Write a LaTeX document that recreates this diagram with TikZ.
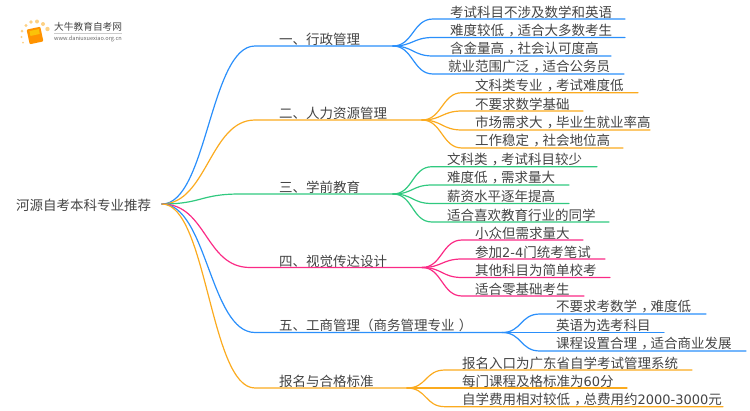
\documentclass[tikz,border=0pt]{standalone}
\usepackage{fontspec}
\setmainfont{Noto Sans CJK SC}
\newfontfamily\digitfont[Scale=0.96]{DejaVu Sans}
\newcommand{\midcomma}{\hspace{.3em}，\hspace{-.3em}}
\definecolor{lineblue}{HTML}{2A8FFB}
\definecolor{lineorange}{HTML}{FBAB1F}
\definecolor{linegreen}{HTML}{30C97F}
\definecolor{linepink}{HTML}{FB2A85}
\definecolor{textgray}{HTML}{444444}
\tikzset{
  label/.style={anchor=west, inner sep=0pt, text=textgray, font=\fontsize{13.5}{16}\selectfont},
  wire/.style={line width=1.2pt, line cap=round},
}
\begin{document}
\begin{tikzpicture}[x=1pt,y=-1pt]
\useasboundingbox (0,0) rectangle (750,410);

% logo
\fill[orange!85!yellow,rounded corners=1pt,rotate around={12:(35,35.5)}] (28,28) rectangle (42,43);
\fill[yellow!55!orange,rotate around={12:(35,35.5)}] (30.5,30) rectangle (40,35);
\foreach \x/\y/\r in {22/31/1.5,26/25.5/1.7,31/22/1.9,37/21.5/2,43/24/2,47.5/29/2.2,21.5/37/1.2,23/42.5/1}
  \fill[lineorange!55] (\x,\y) circle (\r);
\node[label,font=\fontsize{9.7}{12}\selectfont] (logoname) at (54,27) {大牛教育自考网};
\draw[black!20,line width=0.5pt] (54,33.5) -- (122,33.5);
\node[label,text=black!60,font=\fontsize{5.6}{7}\selectfont] (logourl) at (54,39) {www.daniuxuexiao.org.cn};

% root and branches
\node[label] (root) at (16,205.5) {河源自考本科专业推荐};
\coordinate (rootout) at (162,204);
\node[label] (one) at (279,39) {一、行政管理};
\node[label] (two) at (279,113) {二、人力资源管理};
\node[label] (three) at (279,187) {三、学前教育};
\node[label] (four) at (279,261) {四、视觉传达设计};
\node[label] (five) at (279,325) {五、工商管理\hspace{-.25em}\hspace{.25em}（商务管理专业\hspace{.3em}）};
\node[label] (six) at (279,381) {报名与合格标准};

\coordinate (onehub) at (393,46);
\coordinate (twohub) at (422,120);
\coordinate (threehub) at (393,194);
\coordinate (fourhub) at (422,267.5);
\coordinate (fivehub) at (502,332.5);
\coordinate (sixhub) at (407,388);

\draw[wire,lineblue] (rootout) .. controls +(45,0) and +(-45,0) .. (255,46) -- (onehub);
\draw[wire,lineorange] (rootout) .. controls +(45,0) and +(-45,0) .. (255,120) -- (twohub);
\draw[wire,linegreen] (rootout) .. controls +(40,0) and +(-40,0) .. (240,194) -- (threehub);
\draw[wire,linepink] (rootout) .. controls +(45,0) and +(-45,0) .. (250,267.5) -- (fourhub);
\draw[wire,lineblue] (rootout) .. controls +(45,0) and +(-45,0) .. (255,332.5) -- (fivehub);
\draw[wire,lineorange] (rootout) .. controls +(45,0) and +(-45,0) .. (255,388) -- (sixhub);

% leaves: name/text x/line y/line end/text
\foreach \leaf/\x/\y/\xend/\txt in {
  onea/450/19/625/考试科目不涉及数学和英语,
  oneb/450/37.5/625/难度较低\midcomma 适合大多数考生,
  onec/450/56/611/含金量高\midcomma 社会认可度高,
  oned/448/74/624/就业范围广泛\midcomma 适合公务员}
{
  \node[label] (\leaf) at (\x,\y-7.1) {\txt};
  \coordinate (\leaf end) at (\xend,\y);
  \draw[wire,lineblue] (onehub) .. controls +(20,0) and +(-20,0) .. (433,\y) -- (\leaf end);
}
\foreach \leaf/\x/\y/\xend/\txt in {
  twoa/475/92.7/638/文科类专业\midcomma 考试难度低,
  twob/475/111/583/不要求数学基础,
  twoc/475/130/650/市场需求大\midcomma 毕业生就业率高,
  twod/475/148/623/工作稳定\midcomma 社会地位高}
{
  \node[label] (\leaf) at (\x,\y-7.1) {\txt};
  \coordinate (\leaf end) at (\xend,\y);
  \draw[wire,lineorange] (twohub) .. controls +(20,0) and +(-20,0) .. (462,\y) -- (\leaf end);
}
\foreach \leaf/\x/\y/\xend/\txt in {
  threea/447/166.7/597/文科类\midcomma 考试科目较少,
  threeb/447/185/569/难度低\midcomma 需求量大,
  threec/447/203.5/569/薪资水平逐年提高,
  threed/447/222/609/适合喜欢教育行业的同学}
{
  \node[label] (\leaf) at (\x,\y-7.1) {\txt};
  \coordinate (\leaf end) at (\xend,\y);
  \draw[wire,linegreen] (threehub) .. controls +(20,0) and +(-20,0) .. (432,\y) -- (\leaf end);
}
\foreach \leaf/\x/\y/\xend/\txt in {
  foura/475/240/583/小众但需求量大,
  fourb/475/259/605/参加{\digitfont 2-4}门统考笔试,
  fourc/475/277.5/610/其他科目为简单校考,
  fourd/475/296/584/适合零基础考生}
{
  \node[label] (\leaf) at (\x,\y-7.1) {\txt};
  \coordinate (\leaf end) at (\xend,\y);
  \draw[wire,linepink] (fourhub) .. controls +(20,0) and +(-20,0) .. (462,\y) -- (\leaf end);
}
\foreach \leaf/\x/\y/\xend/\txt in {
  fivea/556/314/706/不要求考数学\midcomma 难度低,
  fiveb/556/332.5/664/英语为选考科目,
  fivec/556/351/746/课程设置合理\midcomma 适合商业发展}
{
  \node[label] (\leaf) at (\x,\y-7.1) {\txt};
  \coordinate (\leaf end) at (\xend,\y);
  \draw[wire,lineblue] (fivehub) .. controls +(20,0) and +(-20,0) .. (540,\y) -- (\leaf end);
}
\foreach \leaf/\x/\y/\xend/\txt in {
  sixa/462/370/692/报名入口为广东省自学考试管理系统,
  sixb/462/388/627/每门课程及格标准为{\digitfont 60}分,
  sixc/462/406.7/723/自学费用相对较低\midcomma 总费用约{\digitfont 2000-3000}元}
{
  \node[label] (\leaf) at (\x,\y-7.1) {\txt};
  \coordinate (\leaf end) at (\xend,\y);
  \draw[wire,lineorange] (sixhub) .. controls +(20,0) and +(-20,0) .. (445,\y) -- (\leaf end);
}
\end{tikzpicture}
\end{document}
